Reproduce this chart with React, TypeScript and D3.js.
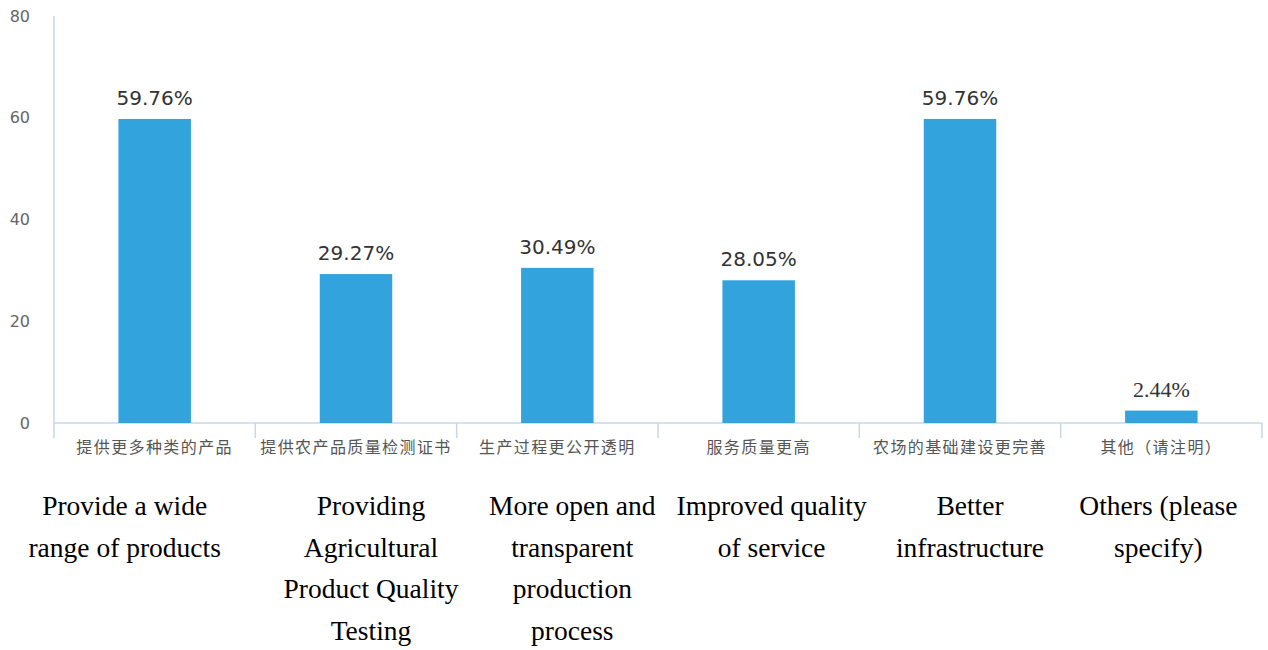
import * as d3 from "d3";

const categories = [
  "提供更多种类的产品",
  "提供农产品质量检测证书",
  "生产过程更公开透明",
  "服务质量更高",
  "农场的基础建设更完善",
  "其他（请注明）",
];

const values = [59.76, 29.27, 30.49, 28.05, 59.76, 2.44];

const englishLabels = [
  ["Provide a wide", "range of products"],
  ["Providing", "Agricultural", "Product Quality", "Testing"],
  ["More open and", "transparent", "production", "process"],
  ["Improved quality", "of service"],
  ["Better", "infrastructure"],
  ["Others (please", "specify)"],
];

const yTicks = [0, 20, 40, 60, 80];

const W = 1268;
const H = 650;
const left = 54;
const right = 1262;
const top = 16;
const bottom = 423;

const App = () => {
  const x = d3.scaleBand<string>().domain(categories).range([left, right]).paddingInner(0).paddingOuter(0);
  const y = d3.scaleLinear().domain([0, 80]).range([bottom, top]);
  const barW = x.bandwidth() * 0.36;
  const axisColor = "#c9d6e8";
  // english table columns don't line up exactly with the bands
  const tableShift = [-30, 15, 15, 13, 10, -3];

  return (
    <svg width={W} height={H} style={{ position: "absolute", left: 0, top: 0 }}>
      <rect width={W} height={H} fill="#fff" />
      {yTicks.map((t) => (
        <text
          key={t}
          x={left - 24}
          y={y(t)}
          dy="0.35em"
          textAnchor="end"
          fontFamily="DejaVu Sans"
          fontSize={16}
          fill="#666"
        >
          {t}
        </text>
      ))}
      <line x1={left} x2={left} y1={top} y2={bottom} stroke={axisColor} strokeWidth={1.5} />
      <line x1={left} x2={right} y1={bottom} y2={bottom} stroke={axisColor} strokeWidth={1.5} />
      {categories.map((c) => (
        <line
          key={"t" + c}
          x1={x(c)!}
          x2={x(c)!}
          y1={bottom}
          y2={bottom + 15}
          stroke={axisColor}
          strokeWidth={1.5}
        />
      ))}
      <line x1={right} x2={right} y1={bottom} y2={bottom + 15} stroke={axisColor} strokeWidth={1.5} />
      {categories.map((c, i) => {
        const cx = x(c)! + x.bandwidth() / 2;
        return (
          <g key={c}>
            <rect x={cx - barW / 2} y={y(values[i])} width={barW} height={bottom - y(values[i])} fill="#32a3dc" />
            <text
              x={cx}
              y={y(values[i]) - 14}
              textAnchor="middle"
              fontFamily={i === 5 ? "Liberation Serif" : "DejaVu Sans"}
              fontSize={i === 5 ? 22 : 20}
              fill="#333"
            >
              {values[i].toFixed(2)}%
            </text>
            <text
              x={cx}
              y={bottom + 24}
              dy="0.35em"
              textAnchor="middle"
              fontFamily="Noto Sans CJK SC"
              fontSize={16}
              letterSpacing={1.4}
              fill="#555"
            >
              {c}
            </text>
            <text
              x={cx + tableShift[i]}
              textAnchor="middle"
              fontFamily="Liberation Serif"
              fontSize={27.5}
              fill="#000"
            >
              {englishLabels[i].map((line, j) => (
                <tspan key={j} x={cx + tableShift[i]} y={515 + j * 41.5}>
                  {line}
                </tspan>
              ))}
            </text>
          </g>
        );
      })}
    </svg>
  );
};

export default App;
